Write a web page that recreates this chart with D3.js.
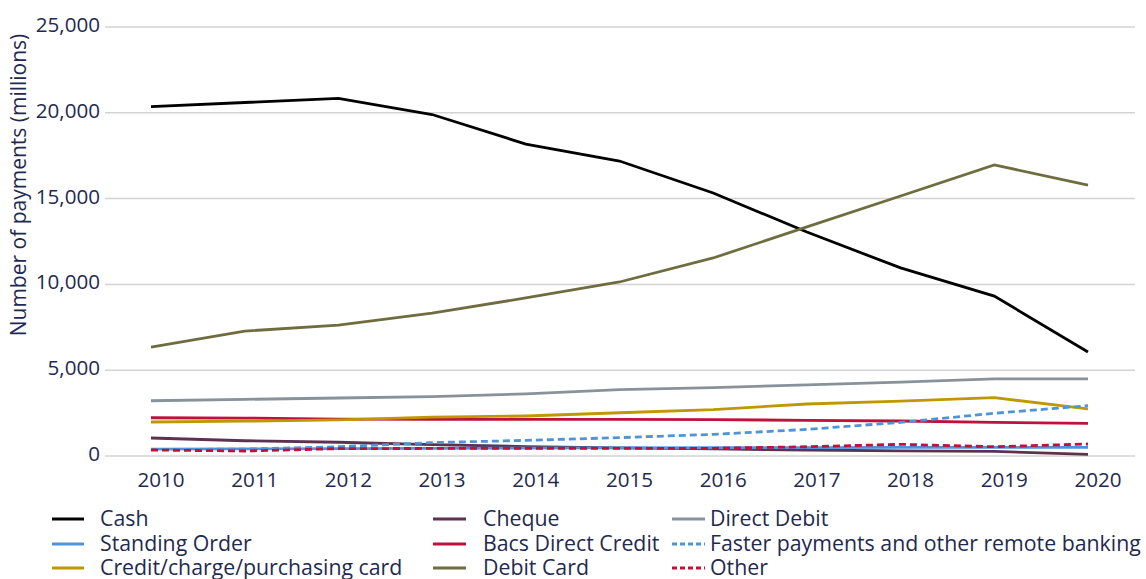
<!DOCTYPE html>
<html>
<head>
<meta charset="utf-8">
<script src="https://cdn.jsdelivr.net/npm/d3@7"></script>
<style>
  body { margin: 0; background: #fff; }
  text { font-family: "Open Sans", sans-serif; fill: #1f2a50; }
</style>
</head>
<body>
<div id="chart"></div>
<script>
// data (millions of payments)
const years = [2010, 2011, 2012, 2013, 2014, 2015, 2016, 2017, 2018, 2019, 2020];
const yTicks = [0, 5000, 10000, 15000, 20000, 25000];

const cash = [20360, 20600, 20840, 19900, 18180, 17190, 15330, 13050, 10960, 9320, 6060];
const cheque = [1050, 890, 800, 660, 550, 470, 410, 350, 300, 270, 100];
const directDebit = [3220, 3300, 3380, 3460, 3620, 3870, 3990, 4140, 4300, 4490, 4490];
const standingOrder = [400, 410, 430, 450, 460, 470, 480, 490, 500, 500, 500];
const bacsCredit = [2230, 2210, 2150, 2140, 2140, 2130, 2120, 2080, 2040, 1960, 1900];
const fasterPayments = [380, 400, 540, 780, 910, 1070, 1260, 1550, 1960, 2490, 2930];
const creditCard = [1980, 2030, 2100, 2260, 2330, 2520, 2700, 3030, 3200, 3400, 2740];
const debitCard = [6350, 7280, 7630, 8330, 9210, 10140, 11540, 13350, 15150, 16960, 15790];
const other = [350, 290, 430, 440, 440, 440, 450, 540, 680, 540, 700];

// legend order (3 columns x 3 rows, filled row by row)
const series = [
  {name: "Cash", values: cash, color: "#000000", dash: null},
  {name: "Cheque", values: cheque, color: "#5e3152", dash: null},
  {name: "Direct Debit", values: directDebit, color: "#87929b", dash: null},
  {name: "Standing Order", values: standingOrder, color: "#4f94d6", dash: null},
  {name: "Bacs Direct Credit", values: bacsCredit, color: "#c0103c", dash: null},
  {name: "Faster payments and other remote banking", values: fasterPayments, color: "#4f94d6", dash: "7,4"},
  {name: "Credit/charge/purchasing card", values: creditCard, color: "#bf9800", dash: null},
  {name: "Debit Card", values: debitCard, color: "#6f6d40", dash: null},
  {name: "Other", values: other, color: "#c0103c", dash: "7,4"}
];

const w = 1146, h = 579;

const svg = d3.select("#chart").append("svg")
    .attr("width", w)
    .attr("height", h);

const x = d3.scaleLinear().domain([2010, 2020]).range([151, 1088]);
const y = d3.scaleLinear().domain([0, 25000]).range([456, 27]);

// gridlines + y labels
svg.selectAll(".grid")
  .data(yTicks)
  .enter()
  .append("line")
    .attr("x1", 105)
    .attr("x2", 1135)
    .attr("y1", d => y(d))
    .attr("y2", d => y(d))
    .attr("stroke", "#d3d3d3")
    .attr("stroke-width", 1.5);

svg.selectAll(".ylab")
  .data(yTicks)
  .enter()
  .append("text")
    .attr("x", 100)
    .attr("y", d => y(d) + 5)
    .attr("text-anchor", "end")
    .style("font-size", "20.6px")
    .text(d => d3.format(",")(d));

// x labels (sit a little right of the data points, like the original)
svg.selectAll(".xlab")
  .data(years)
  .enter()
  .append("text")
    .attr("x", d => x(d) + 10)
    .attr("y", 487)
    .attr("text-anchor", "middle")
    .style("font-size", "20.6px")
    .text(d => d);

// axis title
svg.append("text")
    .attr("transform", "translate(26,185) rotate(-90)")
    .attr("text-anchor", "middle")
    .style("font-size", "21px")
    .text("Number of payments (millions)");

// lines
const line = d3.line()
    .x((d, i) => x(years[i]))
    .y(d => y(d));

// draw solid ones first, dashed on top
const drawOrder = series.filter(s => !s.dash).concat(series.filter(s => s.dash));

svg.selectAll(".series")
  .data(drawOrder)
  .enter()
  .append("path")
    .attr("d", d => line(d.values))
    .attr("fill", "none")
    .attr("stroke", d => d.color)
    .attr("stroke-width", 2.8)
    .attr("stroke-dasharray", d => d.dash);

// legend
const colLine = [52, 433, 672];
const colLineEnd = [84, 466, 705];
const colText = [100, 483, 710];
const rowY = [519, 544, 568];

const leg = svg.selectAll(".legend")
  .data(series)
  .enter()
  .append("g");

leg.append("line")
    .attr("x1", (d, i) => colLine[i % 3])
    .attr("x2", (d, i) => colLineEnd[i % 3])
    .attr("y1", (d, i) => rowY[Math.floor(i / 3)])
    .attr("y2", (d, i) => rowY[Math.floor(i / 3)])
    .attr("stroke", d => d.color)
    .attr("stroke-width", 3)
    .attr("stroke-dasharray", d => d.dash ? "5,3" : null);

leg.append("text")
    .attr("x", (d, i) => colText[i % 3])
    .attr("y", (d, i) => rowY[Math.floor(i / 3)] + 7)
    .style("font-size", "21.3px")
    .text(d => d.name);
</script>
</body>
</html>
